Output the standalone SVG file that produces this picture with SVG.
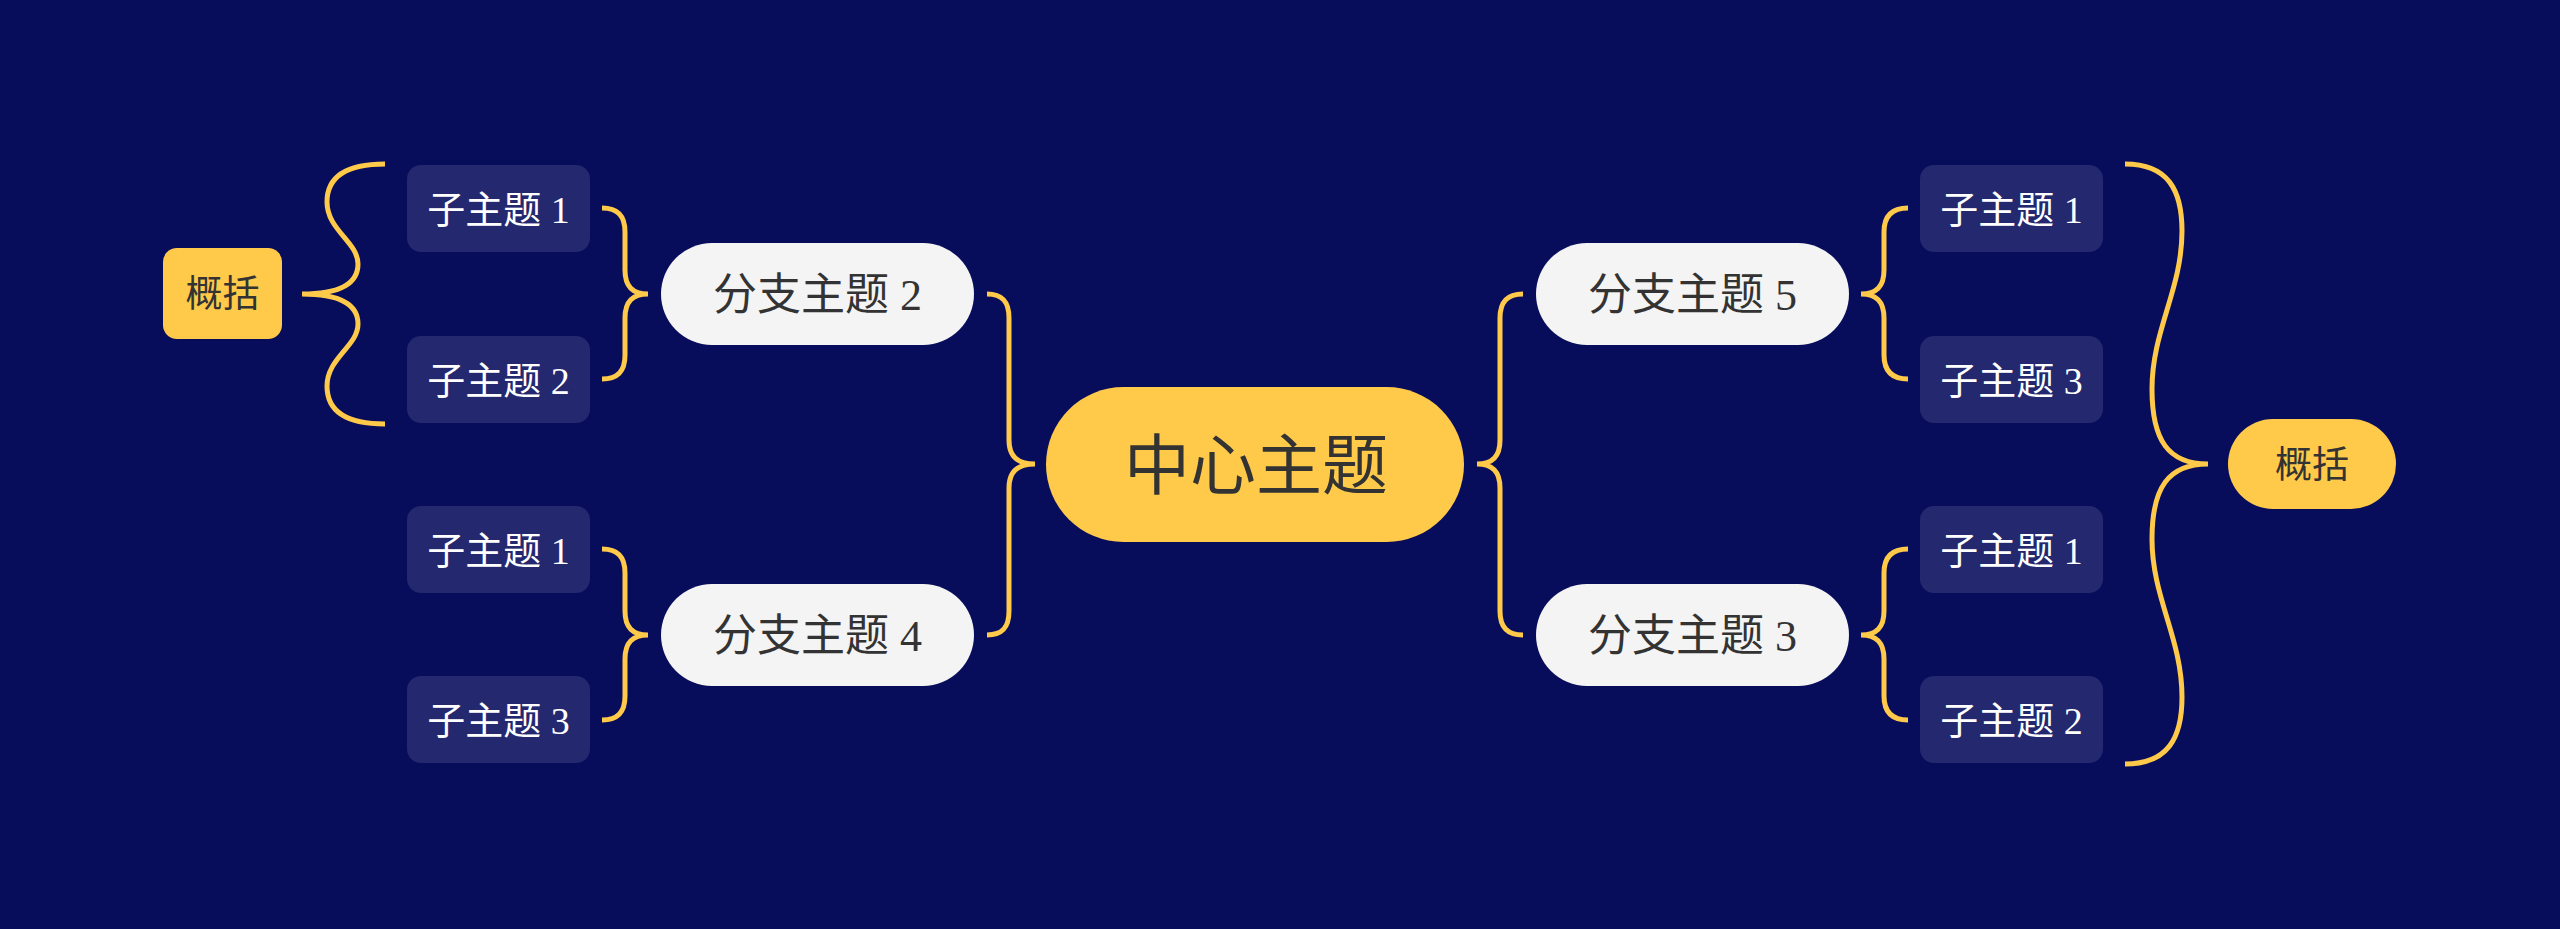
<svg xmlns="http://www.w3.org/2000/svg" width="2560" height="929" viewBox="0 0 2560 929">
<style>
.bg{fill:#080d5b}
.sub rect{fill:#23286f}
.sub text{fill:#ffffff;font-family:"Liberation Serif","Noto Sans CJK SC",serif;font-size:38px;text-anchor:middle}
.br rect{fill:#f4f4f4}
.br text{fill:#333333;font-family:"Liberation Serif","Noto Sans CJK SC",serif;font-size:44px;text-anchor:middle}
.sum rect{fill:#ffc94a}
.sum text{fill:#333333;font-family:"Noto Sans CJK SC",sans-serif;font-size:37px;text-anchor:middle}
.ctr rect{fill:#ffc94a}
.ctr text{fill:#333333;font-family:"Noto Sans CJK SC",sans-serif;font-size:66px;text-anchor:middle}
.conn path{fill:none;stroke:#ffc94a;stroke-width:5;stroke-linecap:butt}
</style>
<rect class="bg" x="0" y="0" width="2560" height="929"/>
<g id="connectors" class="conn">
<path d="M987,294 C1003,294 1009,302 1009,318 L1009,440 C1009,456 1017,464 1035,464 C1017,464 1009,472 1009,488 L1009,611 C1009,627 1003,635 987,635"/>
<path d="M1523,294 C1507,294 1500,302 1500,318 L1500,440 C1500,456 1493,464 1477,464 C1493,464 1500,472 1500,488 L1500,611 C1500,627 1507,635 1523,635"/>
<path d="M602,208 C618,208 625,216 625,232 L625,270 C625,286 632,294 648,294 C632,294 625,302 625,318 L625,355 C625,371 618,379 602,379"/>
<path d="M602,549 C618,549 625,557 625,573 L625,611 C625,627 632,635 648,635 C632,635 625,643 625,659 L625,696 C625,712 618,720 602,720"/>
<path d="M1908,208 C1892,208 1884,216 1884,232 L1884,270 C1884,286 1877,294 1861,294 C1877,294 1884,302 1884,318 L1884,355 C1884,371 1892,379 1908,379"/>
<path d="M1908,549 C1892,549 1884,557 1884,573 L1884,611 C1884,627 1877,635 1861,635 C1877,635 1884,643 1884,659 L1884,696 C1884,712 1892,720 1908,720"/>
<path d="M385,164 C345,164 327,178 327,202 C327,230 358,242 358,264 C358,284 340,294 302,294 C340,294 358,304 358,324 C358,346 327,358 327,386 C327,410 345,424 385,424"/>
<path d="M2125,164 C2168,164 2182,190 2182,231 C2182,290 2152,330 2152,389 C2152,440 2168,464 2208,464 C2168,464 2152,488 2152,539 C2152,598 2182,638 2182,697 C2182,738 2168,764 2125,764"/>
</g>
<g id="center" class="ctr"><rect x="1046" y="387" width="418" height="155" rx="77.5"/><text x="1256" y="489">中心主题</text></g>
<g id="branch2" class="br"><rect x="661" y="243" width="313" height="102" rx="51"/><text x="817.5" y="310">分支主题 2</text></g>
<g id="branch4" class="br"><rect x="661" y="584" width="313" height="102" rx="51"/><text x="817.5" y="651">分支主题 4</text></g>
<g id="branch5" class="br"><rect x="1536" y="243" width="313" height="102" rx="51"/><text x="1692.5" y="310">分支主题 5</text></g>
<g id="branch3" class="br"><rect x="1536" y="584" width="313" height="102" rx="51"/><text x="1692.5" y="651">分支主题 3</text></g>
<g id="l-sub1" class="sub"><rect x="407" y="165" width="183" height="87" rx="14"/><text x="498.5" y="222.5">子主题 1</text></g>
<g id="l-sub2" class="sub"><rect x="407" y="336" width="183" height="87" rx="14"/><text x="498.5" y="393.5">子主题 2</text></g>
<g id="l-sub1b" class="sub"><rect x="407" y="506" width="183" height="87" rx="14"/><text x="498.5" y="563.5">子主题 1</text></g>
<g id="l-sub3" class="sub"><rect x="407" y="676" width="183" height="87" rx="14"/><text x="498.5" y="733.5">子主题 3</text></g>
<g id="r-sub1" class="sub"><rect x="1920" y="165" width="183" height="87" rx="14"/><text x="2011.5" y="222.5">子主题 1</text></g>
<g id="r-sub3" class="sub"><rect x="1920" y="336" width="183" height="87" rx="14"/><text x="2011.5" y="393.5">子主题 3</text></g>
<g id="r-sub1b" class="sub"><rect x="1920" y="506" width="183" height="87" rx="14"/><text x="2011.5" y="563.5">子主题 1</text></g>
<g id="r-sub2" class="sub"><rect x="1920" y="676" width="183" height="87" rx="14"/><text x="2011.5" y="733.5">子主题 2</text></g>
<g id="summary-left" class="sum"><rect x="163" y="248" width="119" height="91" rx="14"/><text x="222.5" y="307">概括</text></g>
<g id="summary-right" class="sum"><rect x="2228" y="419" width="168" height="90" rx="45"/><text x="2312" y="478">概括</text></g>
</svg>
